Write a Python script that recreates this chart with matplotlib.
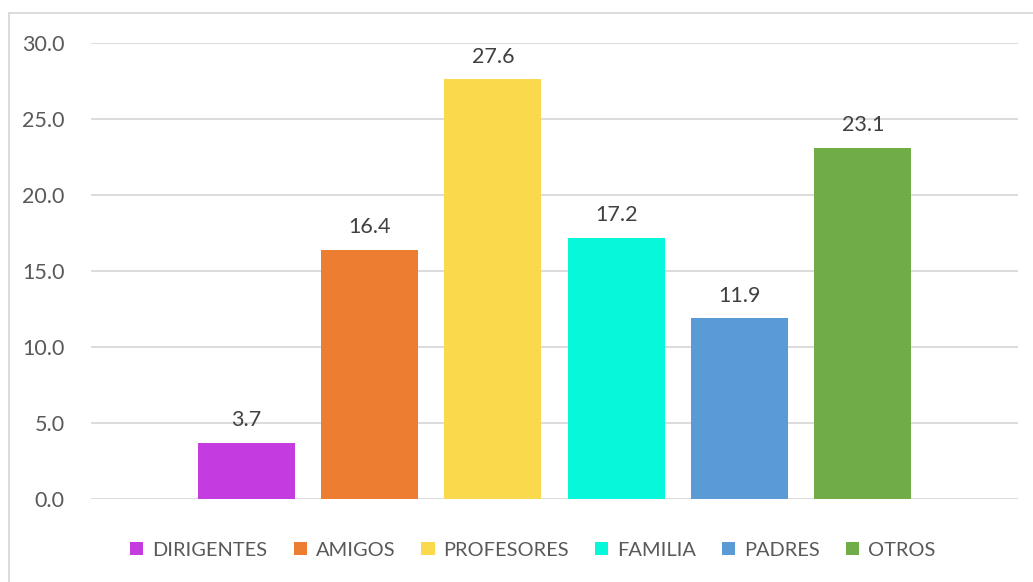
import matplotlib
matplotlib.use("Agg")
import matplotlib.pyplot as plt
from matplotlib.patches import Rectangle

categories = ["DIRIGENTES", "AMIGOS", "PROFESORES", "FAMILIA", "PADRES", "OTROS"]
values = [3.7, 16.4, 27.6, 17.2, 11.9, 23.1]
colors = ["#C43BE0", "#ED7D31", "#FBD94D", "#07F7DA", "#5B9BD5", "#70AD47"]
yticks = [0, 5, 10, 15, 20, 25, 30]

plt.rcParams['font.family'] = ['Lato', 'DejaVu Sans']

fig = plt.figure(figsize=(10.33, 5.82), dpi=100)
W, H = 1033, 582
ax = fig.add_axes([91 / W, 1 - 499 / H, (1018 - 91) / W, (499 - 43) / H])

x = list(range(len(categories)))
bars = ax.bar(x, values, width=0.787, color=colors, label=categories, zorder=3)
for xi, v in zip(x, values):
    ax.annotate(f"{v:.1f}", (xi, v), xytext=(0, 9), textcoords="offset points",
                ha="center", va="bottom", fontsize=15.5, color="#404040")

ax.set_xlim(-1.259, 6.259)
ax.set_ylim(0, 30)
ax.set_yticks(yticks)
ax.set_yticklabels([f"{t:.1f}" for t in yticks], fontsize=15.5, color="#595959")
ax.set_xticks([])
ax.tick_params(axis='y', length=0, pad=19)
ax.grid(axis='y', color="#D9D9D9", linewidth=1.3, zorder=0)
for s in ax.spines.values():
    s.set_visible(False)

fig.patches.append(Rectangle((9 / W, -0.1), 1.2, 1 - 13 / H + 0.1, transform=fig.transFigure,
                             fill=False, edgecolor="#D9D9D9", linewidth=1.3))

leg = fig.legend(handles=bars, labels=categories, loc="center", bbox_to_anchor=(533 / W, 1 - 550 / H),
                 ncol=6, frameon=False, fontsize=14.4, handlelength=0.66, handleheight=0.66,
                 handletextpad=0.45, columnspacing=1.3, labelcolor="#595959")

fig.savefig("out.png", dpi=100)
